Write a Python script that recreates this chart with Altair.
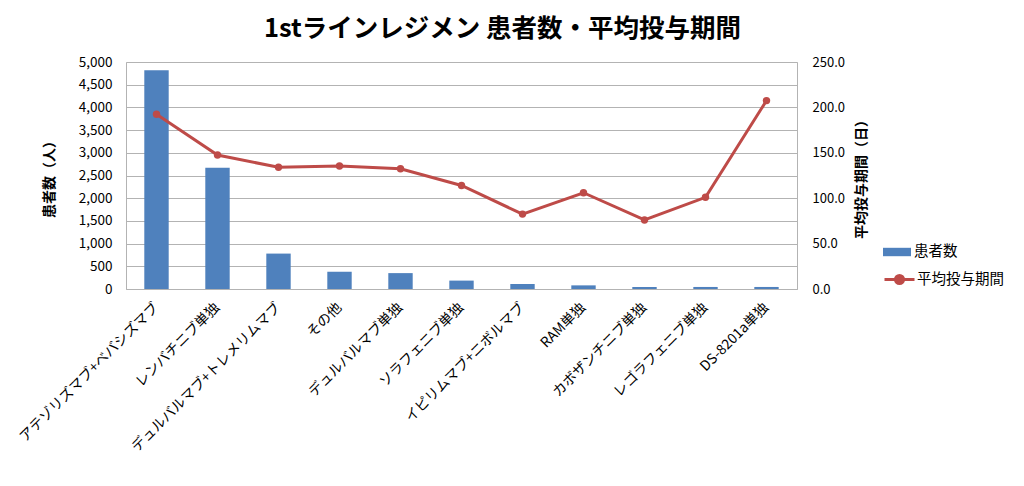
import altair as alt
import pandas as pd

categories = [
    "アテゾリズマブ+ベバシズマブ",
    "レンバチニブ単独",
    "デュルバルマブ+トレメリムマブ",
    "その他",
    "デュルバルマブ単独",
    "ソラフェニブ単独",
    "イピリムマブ+ニボルマブ",
    "RAM単独",
    "カボザンチニブ単独",
    "レゴラフェニブ単独",
    "DS-8201a単独",
]
patients = [4820, 2670, 780, 380, 350, 185, 110, 80, 45, 45, 45]
duration = [192.5, 147.5, 134.0, 135.5, 132.5, 114.0, 82.5, 106.0, 76.0, 101.0, 207.5]
left_ticks = list(range(0, 5001, 500))
right_ticks = [0, 50, 100, 150, 200, 250]

df = pd.DataFrame({
    "regimen": categories,
    "patients": patients,
    "duration": duration,
    "s1": ["患者数"] * len(categories),
    "s2": ["平均投与期間"] * len(categories),
})

FONT = "Noto Sans CJK JP"
GRID = "#b3b3b3"
BLUE = "#4f81bd"
RED = "#be4b48"

x = alt.X(
    "regimen:N", sort=categories,
    scale=alt.Scale(paddingInner=0.6, paddingOuter=0.3),
    axis=alt.Axis(title=None, labelAngle=-45, labelAlign="right", labelBaseline="middle",
                  labelFontSize=14, labelColor="#000", labelFont=FONT,
                  domainColor=GRID, ticks=False, tickSize=0, labelPadding=16,
                  labelLimit=400),
)

bars = alt.Chart(df).mark_bar().encode(
    x=x,
    y=alt.Y("patients:Q", scale=alt.Scale(domain=[0, 5000], nice=False),
            axis=alt.Axis(values=left_ticks, format=",d", title="患者数（人）",
                          titleFontSize=14, titleFontWeight="bold", titleFont=FONT,
                          titleColor="#000", titlePadding=22,
                          labelFontSize=13.5, labelColor="#000", labelFont=FONT,
                          labelPadding=14, ticks=False, tickSize=0,
                          grid=True, gridColor=GRID, domainColor=GRID)),
    fill=alt.Fill("s1:N", scale=alt.Scale(range=[BLUE]),
                  legend=alt.Legend(title=None, orient="none", legendX=757, legendY=176,
                                    symbolType="M-1,-0.3H1V0.3H-1Z", symbolSize=784,
                                    symbolStrokeWidth=0, labelFontSize=14.5, labelFont=FONT,
                                    labelColor="#000", padding=0, labelOffset=3)),
)

y2 = alt.Y("duration:Q", scale=alt.Scale(domain=[0, 250], nice=False),
           axis=alt.Axis(orient="right", values=right_ticks, format=".1f",
                         title="平均投与期間（日）", titleAngle=270,
                         titleFontSize=14, titleFontWeight="bold", titleFont=FONT,
                         titleColor="#000", titlePadding=24,
                         labelFontSize=13, labelColor="#000", labelFont=FONT,
                         labelPadding=15, ticks=False, tickSize=0,
                         grid=False, domainColor=GRID))

line = alt.Chart(df).mark_line(strokeWidth=3).encode(
    x=x,
    y=y2,
    stroke=alt.Stroke("s2:N", scale=alt.Scale(range=[RED]),
                      legend=alt.Legend(title=None, orient="none", legendX=757, legendY=201,
                                        symbolType="M-1,0H1M0.27,0A0.27,0.27,0,1,1,-0.27,0A0.27,0.27,0,1,1,0.27,0Z",
                                        symbolSize=900, symbolStrokeWidth=3,
                                        symbolFillColor=RED,
                                        labelFontSize=14.5, labelFont=FONT,
                                        labelColor="#000", padding=0, labelOffset=1)),
)

points = alt.Chart(df).mark_circle(size=55, opacity=1, color=RED).encode(
    x=x,
    y=y2,
)

chart = alt.layer(bars, alt.layer(line, points)).resolve_scale(
    y="independent", fill="independent", stroke="independent"
).properties(
    width=671,
    height=227,
    padding={"left": 118, "top": 54, "right": 219, "bottom": 189},
    autosize=alt.AutoSizeParams(type="none"),
    title=alt.TitleParams(
        "1stラインレジメン 患者数・平均投与期間",
        font=FONT, fontSize=25.5, fontWeight="bold", color="#000",
        anchor="middle", dx=41, offset=13, limit=900,
    ),
).configure_view(stroke=GRID, strokeWidth=1).configure(background="white")

chart.save("out.html", embed_options={"renderer": "svg", "actions": False})
